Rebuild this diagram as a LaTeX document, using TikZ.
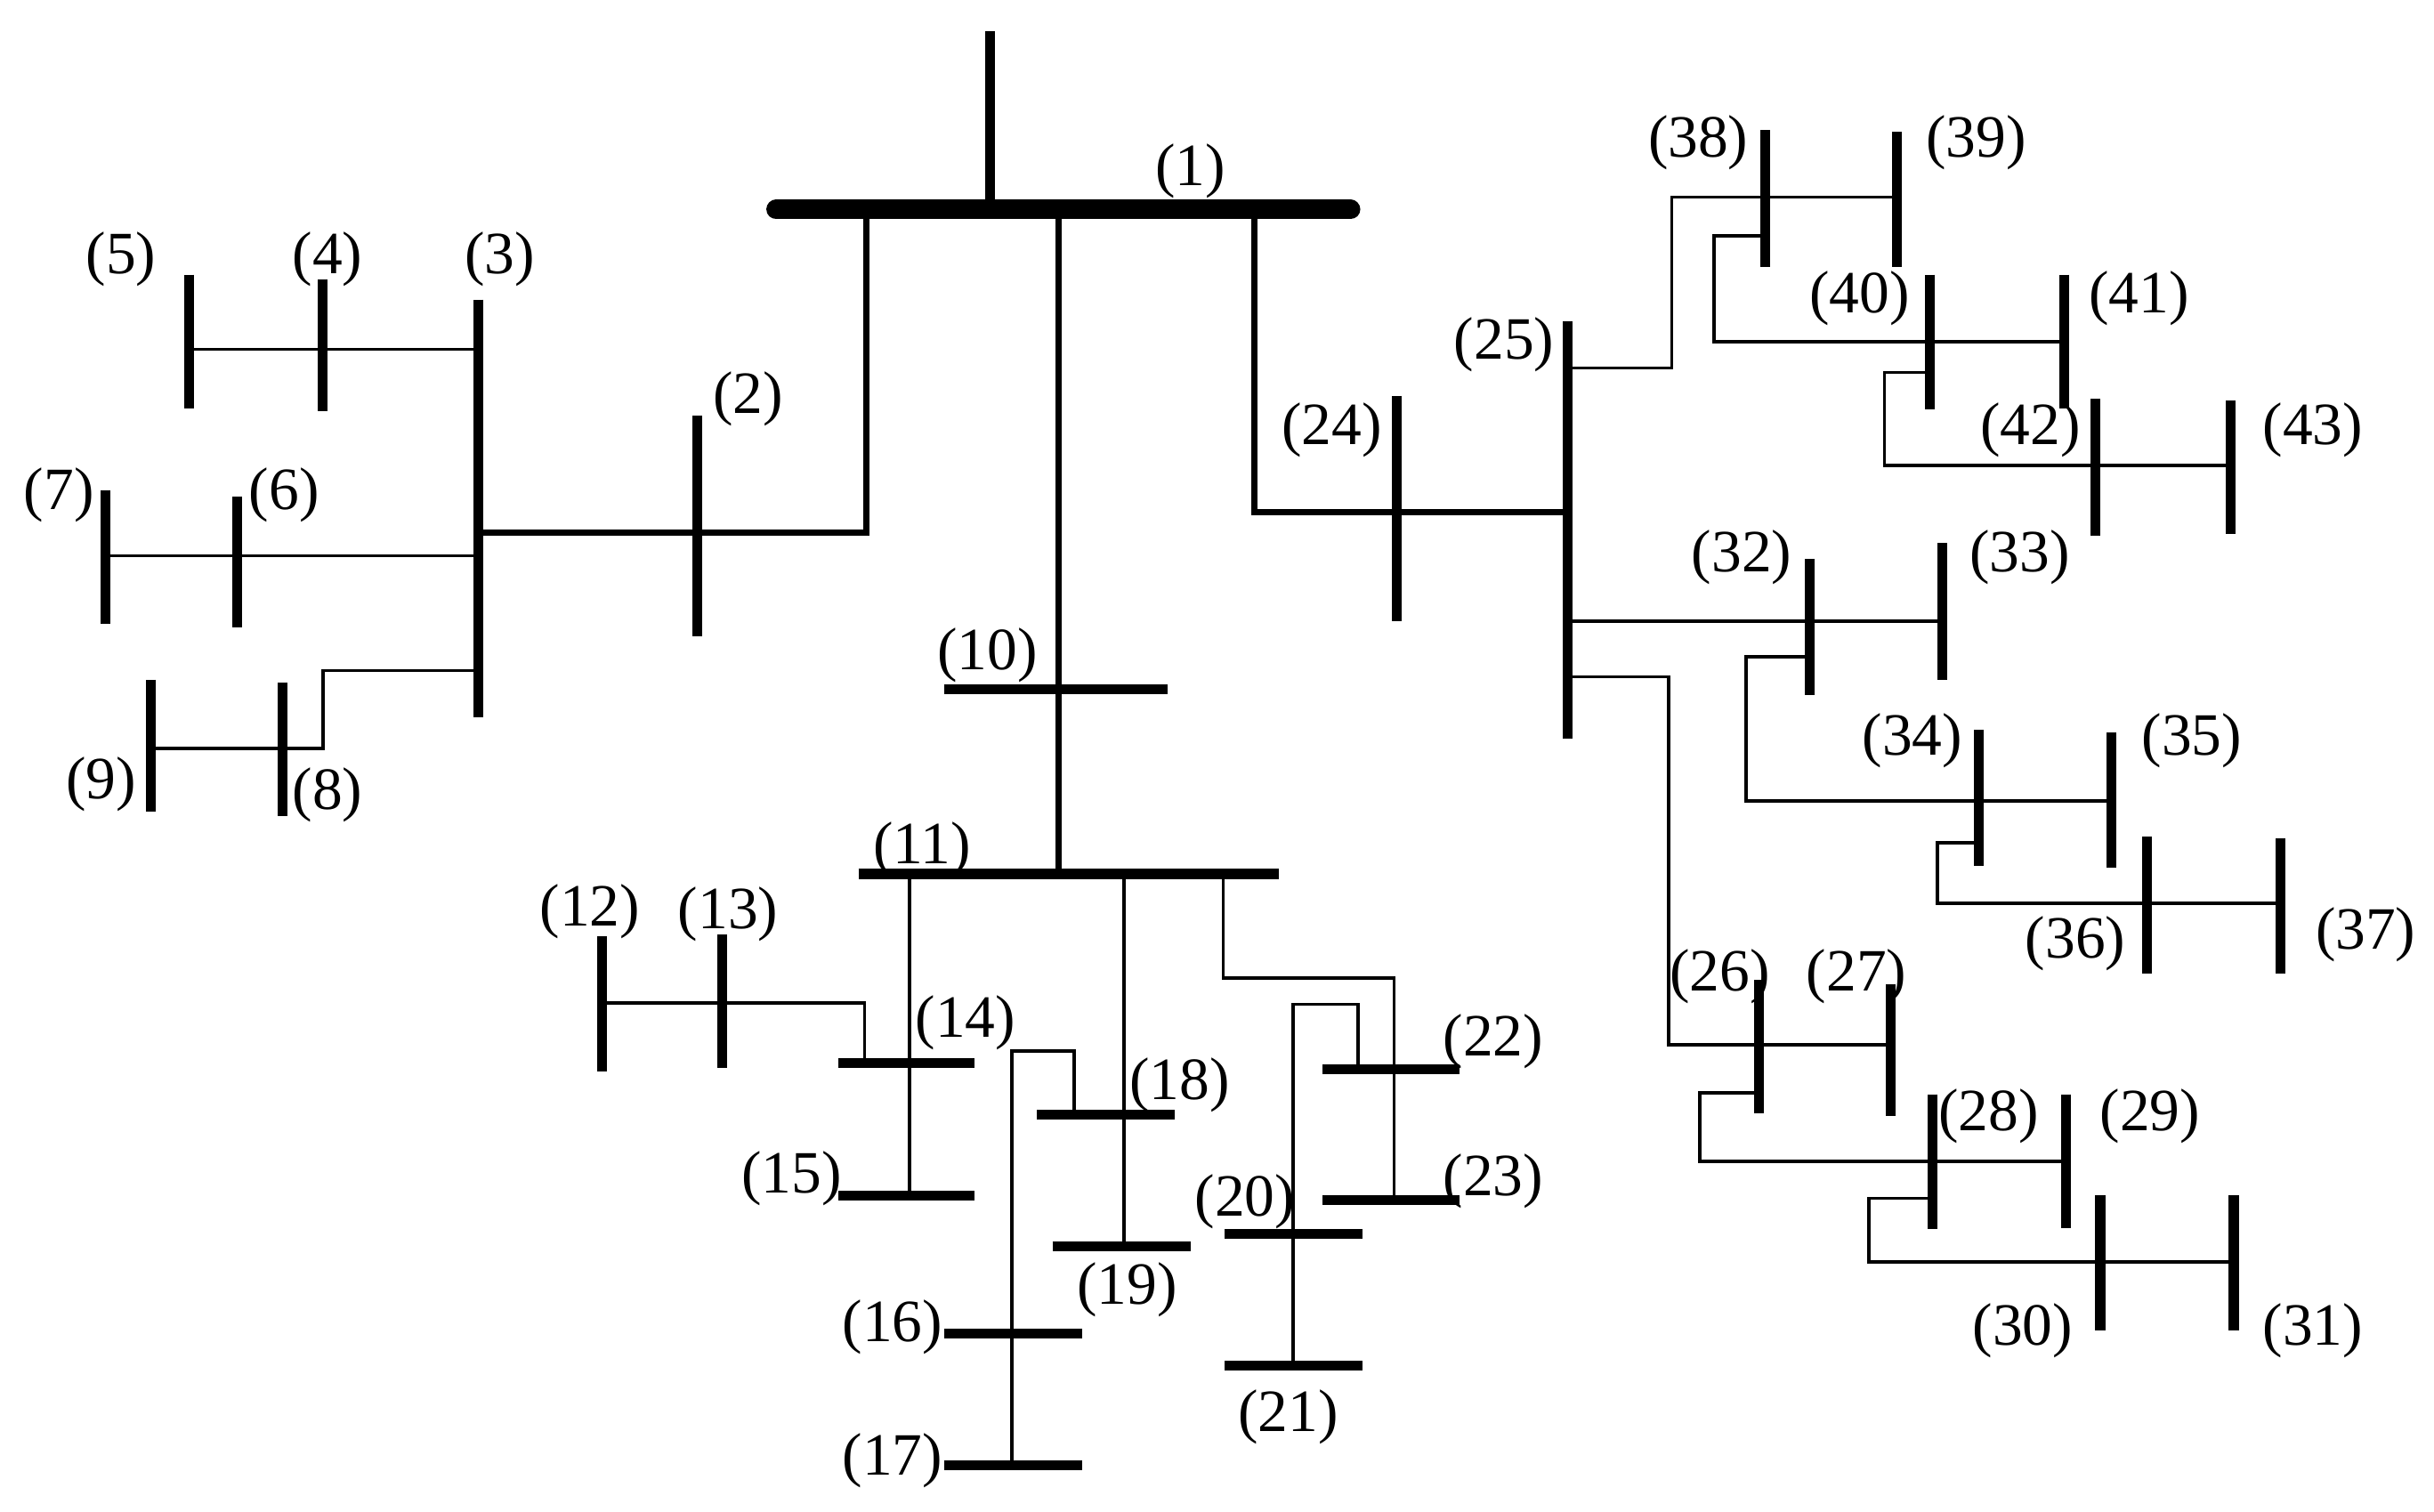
\documentclass[tikz,border=0pt]{standalone}
\usepackage{fontspec}
\setmainfont{Liberation Serif}
\begin{document}
\begin{tikzpicture}[x=0.01cm,y=-0.01cm,
  bus/.style={line width=1.8pt},
  main/.style={line width=3.6pt,line cap=round},
  med/.style={line width=1.1pt},
  thin/.style={line width=0.6pt},
  lbl/.style={font=\fontsize{11}{13}\selectfont,inner sep=0pt}]
\useasboundingbox (0,0) rectangle (1568,974);
% main
\draw[bus] (638,20)--(638,130);
\draw[main] (500,135)--(870,135);
\node[lbl] at (767,110) {(1)};
% left branch
\draw[med] (558,135)--(558,343)--(308,343);
\draw[bus] (449,268)--(449,410); \node[lbl] at (482,257) {(2)};
\draw[bus] (308,193)--(308,462); \node[lbl] at (322,167) {(3)};
\draw[thin] (308,225)--(122,225);
\draw[bus] (208,180)--(208,265); \node[lbl] at (211,167) {(4)};
\draw[bus] (122,177)--(122,263); \node[lbl] at (78,167) {(5)};
\draw[thin] (308,358)--(68,358);
\draw[bus] (153,320)--(153,404); \node[lbl] at (183,319) {(6)};
\draw[bus] (68,316)--(68,402); \node[lbl] at (38,319) {(7)};
\draw[thin] (308,432)--(208,432)--(208,482)--(97,482);
\draw[bus] (182,440)--(182,526); \node[lbl] at (211,512) {(8)};
\draw[bus] (97,438)--(97,523); \node[lbl] at (65,505) {(9)};
% middle branch
\draw[med] (682,135)--(682,563);
\draw[bus] (608,444)--(752,444); \node[lbl] at (636,422) {(10)};
\draw[bus] (553,563)--(824,563); \node[lbl] at (594,547) {(11)};
\draw[thin] (586,563)--(586,770);
\draw[bus] (540,685)--(628,685); \node[lbl] at (622,659) {(14)};
\draw[bus] (540,770)--(628,770); \node[lbl] at (510,759) {(15)};
\draw[thin] (557,685)--(557,646)--(388,646);
\draw[bus] (465,602)--(465,688); \node[lbl] at (469,589) {(13)};
\draw[bus] (388,603)--(388,690); \node[lbl] at (380,587) {(12)};
\draw[thin] (724,563)--(724,803);
\draw[bus] (668,718)--(757,718); \node[lbl] at (760,699) {(18)};
\draw[bus] (678,803)--(767,803); \node[lbl] at (726,831) {(19)};
\draw[thin] (692,718)--(692,677)--(652,677)--(652,944);
\draw[bus] (608,859)--(697,859); \node[lbl] at (575,855) {(16)};
\draw[bus] (608,944)--(697,944); \node[lbl] at (575,941) {(17)};
\draw[thin] (788,563)--(788,630)--(898,630)--(898,773);
\draw[bus] (852,689)--(940,689); \node[lbl] at (962,671) {(22)};
\draw[bus] (852,773)--(940,773); \node[lbl] at (962,761) {(23)};
\draw[thin] (875,689)--(875,647)--(833,647)--(833,880);
\draw[bus] (789,795)--(878,795); \node[lbl] at (802,774) {(20)};
\draw[bus] (789,880)--(878,880); \node[lbl] at (830,913) {(21)};
% right branch
\draw[med] (808,135)--(808,330)--(1010,330);
\draw[bus] (900,255)--(900,400); \node[lbl] at (858,277) {(24)};
\draw[bus] (1010,207)--(1010,476); \node[lbl] at (969,222) {(25)};
\draw[thin] (1010,237)--(1077,237)--(1077,127)--(1222,127);
\draw[bus] (1137,84)--(1137,172); \node[lbl] at (1094,92) {(38)};
\draw[bus] (1222,85)--(1222,172); \node[lbl] at (1273,92) {(39)};
\draw[thin] (1137,152)--(1104,152)--(1104,220)--(1330,220);
\draw[bus] (1243,177)--(1243,264); \node[lbl] at (1198,192) {(40)};
\draw[bus] (1330,177)--(1330,263); \node[lbl] at (1378,192) {(41)};
\draw[thin] (1243,240)--(1214,240)--(1214,300)--(1437,300);
\draw[bus] (1350,257)--(1350,345); \node[lbl] at (1308,277) {(42)};
\draw[bus] (1437,258)--(1437,344); \node[lbl] at (1490,277) {(43)};
\draw[thin] (1010,400)--(1251,400);
\draw[bus] (1166,360)--(1166,448); \node[lbl] at (1122,359) {(32)};
\draw[bus] (1251,350)--(1251,438); \node[lbl] at (1301,359) {(33)};
\draw[thin] (1166,423)--(1125,423)--(1125,516)--(1360,516);
\draw[bus] (1275,470)--(1275,558); \node[lbl] at (1232,477) {(34)};
\draw[bus] (1360,472)--(1360,559); \node[lbl] at (1412,477) {(35)};
\draw[thin] (1275,543)--(1248,543)--(1248,582)--(1469,582);
\draw[bus] (1383,539)--(1383,627); \node[lbl] at (1337,608) {(36)};
\draw[bus] (1469,540)--(1469,627); \node[lbl] at (1524,602) {(37)};
\draw[thin] (1010,436)--(1075,436)--(1075,673)--(1218,673);
\draw[bus] (1133,631)--(1133,717); \node[lbl] at (1108,629) {(26)};
\draw[bus] (1218,634)--(1218,719); \node[lbl] at (1196,629) {(27)};
\draw[thin] (1133,704)--(1095,704)--(1095,748)--(1331,748);
\draw[bus] (1245,705)--(1245,792); \node[lbl] at (1281,719) {(28)};
\draw[bus] (1331,705)--(1331,791); \node[lbl] at (1385,719) {(29)};
\draw[thin] (1245,772)--(1204,772)--(1204,813)--(1439,813);
\draw[bus] (1353,770)--(1353,857); \node[lbl] at (1303,857) {(30)};
\draw[bus] (1439,770)--(1439,857); \node[lbl] at (1490,857) {(31)};
\end{tikzpicture}
\end{document}
